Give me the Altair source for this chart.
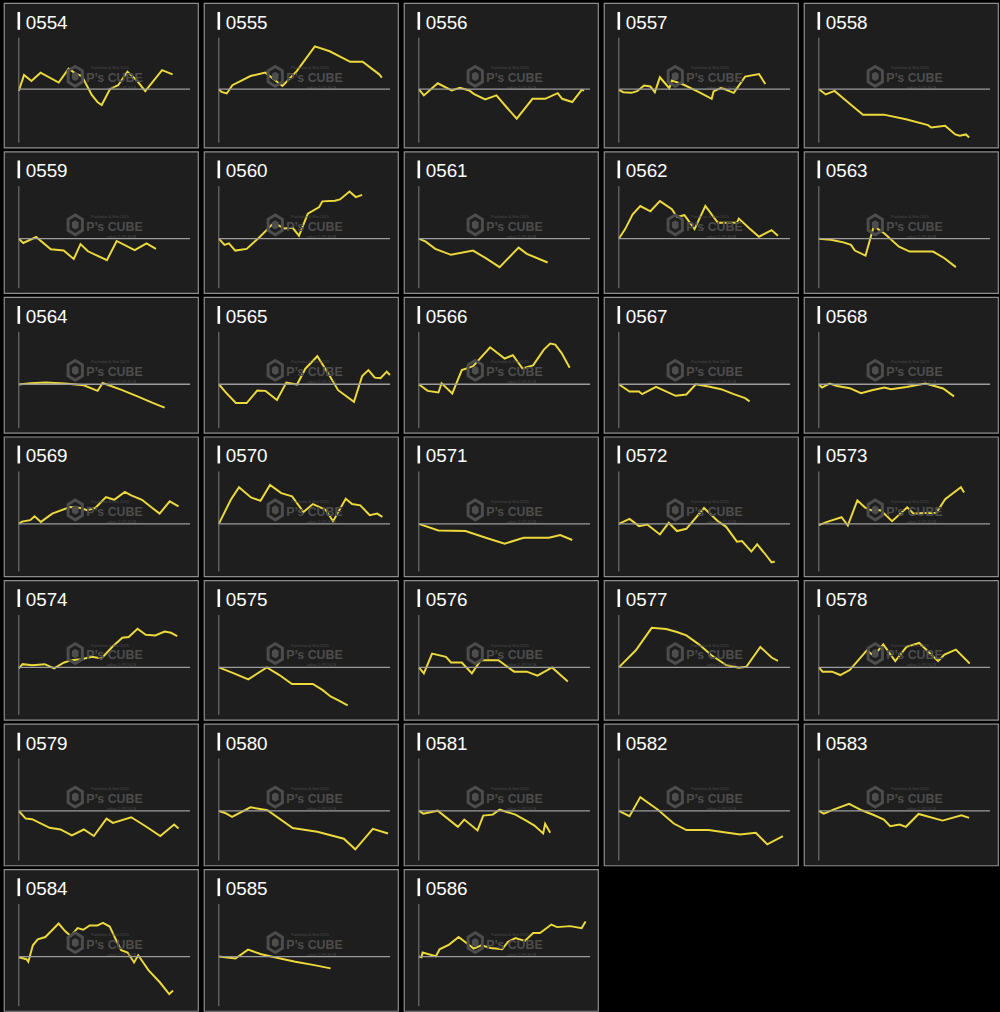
import altair as alt
import pandas as pd

codes = ["0554", "0555", "0556", "0557", "0558",
         "0559", "0560", "0561", "0562", "0563",
         "0564", "0565", "0566", "0567", "0568",
         "0569", "0570", "0571", "0572", "0573",
         "0574", "0575", "0576", "0577", "0578",
         "0579", "0580", "0581", "0582", "0583",
         "0584", "0585", "0586"]

x_0554 = [0, 5.3, 12.7, 22, 40.3, 50.3, 57, 63.7, 73.7, 79.7, 83.7, 92, 100.3, 109.7, 118.7, 127.7, 144.7, 155.3]
y_0554 = [-1.7, 14.3, 8.3, 16.7, 6.7, 20.7, 16, 13.3, -5.7, -13.3, -16, 0, 4, 17.7, 9.3, -2, 19.3, 15]
x_0555 = [0, 2.7, 8, 13.7, 32, 47, 64.3, 78.7, 97, 112, 132.7, 145.3, 162, 164.7]
y_0555 = [0, -2.7, -4.3, 4, 13.3, 16.7, 3.3, 18.3, 43.3, 38.3, 27.7, 27.7, 15, 11.7]
x_0556 = [0, 5.1, 19.1, 33.2, 41.5, 51, 55.5, 67, 78.4, 89.3, 98.9, 114.8, 127.6, 140.3, 144.8, 155, 164.5, 167]
y_0556 = [0, -6.3, 6, -1.3, 1.3, -1.3, -4.7, -10.3, -6.3, -19, -29.7, -9.7, -9.7, -4, -9.7, -13, -0.7, -1.3]
x_0557 = [0, 4.5, 12.8, 18.5, 25.5, 31.9, 36.4, 41.5, 51, 53.6, 65.1, 81, 93.8, 95.7, 103.3, 116.1, 127.6, 141.6, 148]
y_0557 = [-0.7, -3, -3.7, -2, 3.7, 2.7, -3, 12, 1, 8.7, 4.7, -3, -9.7, -2.3, 1.3, -3.7, 12.7, 15.3, 5.3]
x_0558 = [0, 7, 15.9, 26.1, 44.6, 65.7, 88, 110.3, 113.5, 127.6, 137.8, 142.3, 148.6, 151.8]
y_0558 = [0, -5.3, -1.7, -10.3, -25.7, -25.7, -30.3, -36.3, -38.7, -37, -45.7, -47, -45.7, -48.7]
x_0559 = [0, 4.5, 17.5, 32.3, 45.3, 55.5, 62.3, 69.8, 89, 98.8, 117, 129, 138.5]
y_0559 = [0, -4.3, 1.7, -10.7, -12, -20.5, -5.5, -12.7, -21.7, -2.3, -11.5, -4.8, -10.3]
x_0560 = [0, 5.7, 10.2, 16.6, 28.1, 40.8, 55.5, 66.3, 74.6, 81, 89.9, 101.4, 104.6, 117.3, 122.4, 132, 138.4, 144.8]
y_0560 = [0, -6.3, -4.7, -12, -10.3, 1.3, 16, 10.3, 11, 3, 25.3, 32, 37.7, 38.3, 39.7, 47.7, 42, 44.3]
x_0561 = [0, 7, 16.6, 32.5, 54.8, 67.6, 81.6, 100.8, 109.1, 130.1]
y_0561 = [0, -3, -10.3, -16.3, -12, -19.7, -28.7, -9, -15.3, -24]
x_0562 = [0, 6.4, 14, 21.7, 31.9, 41.5, 53.6, 58.7, 66.3, 76.5, 87.4, 100.1, 109.7, 119.3, 121.2, 132, 141.6, 154.3, 160.7]
y_0562 = [0, 9.7, 24.7, 33, 27.7, 38, 29.7, 22, 23.7, 9.7, 33, 16, 16, 16, 20.3, 10.3, 2, 8.7, 3]
x_0563 = [0, 12.1, 24.9, 32.5, 36.4, 47.2, 55.5, 66.3, 81, 91.8, 115.4, 126.9, 138.4]
y_0563 = [0, -1, -3.7, -6.3, -12, -17, 12.7, 5.3, -8, -13, -13, -19.7, -28.7]
x_0564 = [0, 11.5, 27.4, 46.5, 65.6, 79.6, 84.7, 103.8, 119.9, 135.8, 147.3]
y_0564 = [-0.3, 1, 1.7, 0.7, -1, -6.7, 1.3, -5.7, -12.3, -19, -23.7]
x_0565 = [0, 7, 17.2, 28.1, 38.9, 47.2, 58.7, 68.2, 79, 87.4, 99.5, 111, 120.5, 136.5, 144.8, 151.1, 157.5, 163.3, 169.6, 172.8]
y_0565 = [0, -8.3, -19, -19, -6.3, -6.7, -16, 1.7, -0.3, 15.7, 28.3, 10, -6, -17.7, 8.3, 14.3, 6.7, 6, 12.7, 9.3]
x_0566 = [0, 8.9, 19.8, 23, 33.8, 43.4, 54.8, 72, 86.7, 95, 104.6, 115.4, 126.3, 132.7, 137.8, 144.1, 152.4]
y_0566 = [0, -6.7, -8.3, 1, -9.3, 14.3, 18.3, 37.3, 26, 29.3, 16, 19, 35, 41, 40, 31.7, 16.7]
x_0567 = [0, 10.8, 20.4, 23.6, 37.6, 57.4, 68.2, 77.8, 90.6, 103.3, 116.1, 127.6, 132]
y_0567 = [0, -7.3, -7.3, -10, -2.7, -11.7, -10.3, 0, -2.3, -5, -10, -14, -17.3]
x_0568 = [0, 3.2, 10.8, 18.5, 31.2, 42.7, 53.6, 66.3, 72.7, 88.6, 107.8, 125.6, 136.5]
y_0568 = [0, -3.3, 0.7, -1.7, -4, -9, -6, -3.3, -5, -2.7, 0.7, -4.3, -12.3]
x_0569 = [0, 3.2, 11.5, 15.9, 22.3, 33.8, 51.7, 62.5, 68.9, 77.2, 88, 96.3, 107.1, 113.5, 124.4, 135.8, 142.2, 152.4, 161.3]
y_0569 = [0, 2.3, 3.7, 7.7, 2, 10.3, 17, 16, 13.7, 16, 27, 24.3, 32.3, 28.7, 24.3, 15.3, 10.3, 22.7, 17.7]
x_0570 = [0, 12.1, 20.4, 32.5, 42.1, 51.7, 63.1, 74, 85.5, 95, 107.8, 115.4, 128.2, 134.6, 142.9, 152.4, 160, 165.2]
y_0570 = [0, 24.3, 37, 26.7, 23.3, 39.3, 31, 27.7, 12, 20, 14.3, 2.7, 25.3, 20, 18.7, 8.7, 10.3, 7]
x_0571 = [0, 19.8, 47.2, 67.6, 86.7, 105.9, 131.4, 142.9, 155]
y_0571 = [0, -6.7, -7.3, -14, -20, -14, -14, -11.3, -16.3]
x_0572 = [0, 10.8, 20.4, 28.7, 41.5, 50.4, 58.7, 68.2, 86.1, 100.1, 108.4, 119.3, 124.4, 128.8, 133.9, 139.7, 148, 154.3, 157.5]
y_0572 = [0, 5, -2.3, -0.7, -10.7, 1, -7.3, -5, 16, 2.7, -3, -18, -17.3, -22.3, -28, -20.7, -30.7, -39, -38]
x_0573 = [0, 8.3, 23, 29.3, 38.9, 46.5, 52.9, 62.5, 74, 89.3, 95.7, 105.9, 118.6, 127.6, 143.5, 146.7]
y_0573 = [-1.3, 2, 6.7, -1.7, 23.7, 16.7, 13.7, 13.7, 2.7, 16.7, 10.3, 11, 11, 25, 37, 31.7]
x_0574 = [0, 3.8, 13.4, 26.1, 35.7, 45.3, 53, 63.1, 74, 83.5, 95, 104.6, 111, 119.9, 128.2, 137.8, 147.3, 153.7, 160]
y_0574 = [-1, 3.3, 2.3, 3.3, -1, 4.7, 7.3, 8.3, 10.7, 9, 21.3, 30, 30.7, 39, 33, 32.3, 36.3, 35, 31.7]
x_0575 = [0, 15.3, 29.8, 48.5, 61.2, 73.9, 94.9, 104.6, 112.9, 121.8, 130.1]
y_0575 = [0, -6, -12, 0, -7.7, -16.7, -16.7, -22.7, -29.3, -33.7, -38.3]
x_0576 = [0, 5.1, 13.4, 27.4, 32.5, 43.4, 53.6, 62.5, 80.4, 96.3, 109.1, 119.9, 134.6, 150.5]
y_0576 = [0, -6, 14, 10.7, 5, 5, -6, 7.3, 7.3, -4.3, -4.3, -8.3, 0, -14.3]
x_0577 = [0, 17.2, 33.2, 47.8, 58.7, 68.2, 80.9, 93.6, 108.4, 121.2, 128.8, 142.9, 154.3, 160.7]
y_0577 = [0, 17.3, 40, 38.7, 35.7, 32.3, 23.3, 12.3, 2.3, -0.3, 0.7, 20.7, 10, 6.7]
x_0578 = [0, 3.8, 13.4, 21.7, 31.2, 48.5, 55.5, 65.1, 77.2, 88.6, 101.4, 120.5, 126.9, 138.4, 152.4]
y_0578 = [0, -4.3, -4.3, -7.7, -2.7, 17.3, 11.7, 23.3, 6.3, 20.7, 24.7, 6.3, 13, 18, 4]
x_0579 = [0, 7, 13.4, 31.2, 42.1, 53.6, 65.7, 75.8, 88.6, 95, 113.5, 126.9, 142.9, 156.9, 161.3]
y_0579 = [0, -7.7, -8.3, -17, -18.7, -24.7, -18.7, -25.3, -7.7, -12, -6.3, -14.7, -25.3, -13.7, -17.7]
x_0580 = [0, 6.4, 13.4, 31.9, 49.1, 74.6, 99.5, 126.3, 137.8, 155.6, 170.9]
y_0580 = [0, -2, -6, 3.7, 0.7, -17.3, -21, -28, -38.7, -18, -22.7]
x_0581 = [0, 4.5, 19.1, 39.5, 45.9, 59.3, 65.1, 74.6, 81.6, 97.6, 108.4, 116.8, 125.6, 127.6, 132.7]
y_0581 = [0.3, -2.7, 0.3, -16, -8.7, -19.7, -4.7, -3.7, 1.3, -3.7, -9.7, -14.7, -22.7, -13, -22]
x_0582 = [0, 10.8, 21.7, 39.5, 55.5, 68.2, 90.6, 122.4, 138.4, 149.9, 165.8]
y_0582 = [0, -5.3, 14, 1.3, -12.7, -19.3, -19.3, -23.7, -22, -33.7, -25.3]
x_0583 = [0, 5.1, 14.7, 30.6, 43.4, 56.1, 65.7, 72.1, 81.6, 88, 100.8, 125, 144.1, 151.8]
y_0583 = [0, -2.7, 1.3, 7.3, 0.7, -4.3, -8.7, -15.3, -13.7, -16, -3, -9.7, -4.3, -7]
x_0584 = [0, 7.7, 9.6, 14.2, 19.1, 26.8, 33.3, 40.2, 46.7, 52.4, 59.3, 65.1, 71.6, 79.2, 85, 91.8, 98.4, 103.4, 109.9, 116.4, 120.6, 130.9, 142.4, 151.9, 155.8]
y_0584 = [-0.7, -2.7, -5.3, 11.3, 17.3, 19.7, 26.3, 33.3, 25.7, 20.7, 28.7, 27, 31.3, 31.3, 34, 30.3, 16.3, 6.3, 4, -6, 1.3, -13.7, -26, -38, -34.3]
x_0585 = [0, 16.8, 29.5, 42.9, 62, 77.3, 96.4, 112.9]
y_0585 = [0, -2, 7, 2.3, -2, -5.3, -8.7, -12]
x_0586 = [0, 2.7, 3.8, 17.2, 21, 30.6, 40.2, 55.5, 63.1, 72.7, 84.2, 89.9, 97.6, 107.1, 115.5, 122.4, 133.9, 139.6, 153, 164.5, 168.4]
y_0586 = [0, -0.7, 4, 0.3, 7.3, 12, 19.7, 8, 11.3, 8.7, 7.3, 14.7, 18.7, 15.7, 23.7, 23.7, 32.3, 29.7, 30.7, 28.7, 35.3]

series = {c: (globals()["x_" + c], globals()["y_" + c]) for c in codes}

# layout
PANEL_W = 196
ROW_H = [146, 143, 137, 141, 141, 143, 143]
ROW_BASE = [87, 88, 88, 88, 88, 88, 88]
NCOL = 5

YELLOW = "#ecd93b"
BG = "#1e1e1e"
WM = "#4d4d4d"
HEX = "M0,-1 L0.72,-0.56 L0.72,0.56 L0,1 L-0.72,0.56 L-0.72,-0.56 Z"


def panel(code, h, base):
    xs, ys = series[code]
    n = len(xs)
    df = pd.DataFrame({"day": xs, "change": ys, "code": [code] * n,
                       "first": [True] + [False] * (n - 1)})
    xsc = alt.Scale(domain=[-15, PANEL_W - 15], nice=False, zero=False)
    ysc = alt.Scale(domain=[base - h, base], nice=False, zero=False)
    X = alt.X("day:Q", scale=xsc, axis=None)
    Y = alt.Y("change:Q", scale=ysc, axis=None)

    base_chart = alt.Chart(df)
    first = base_chart.transform_filter("datum.first")

    hex_outer = first.mark_point(
        shape=HEX, filled=False, stroke=WM, strokeWidth=3, size=400, opacity=1
    ).encode(x=alt.value(72), y=alt.value(74))
    hex_inner = first.mark_point(
        shape=HEX, filled=True, fill=WM, size=90, opacity=1
    ).encode(x=alt.value(72), y=alt.value(74))
    wm_text = first.mark_text(
        text="P’s CUBE", font="Liberation Sans", fontWeight="bold", fontSize=12.5,
        color=WM, align="left", baseline="alphabetic"
    ).encode(x=alt.value(83), y=alt.value(80))
    wm_top = first.mark_text(
        text="Pachinko & Slot 2015", font="Liberation Sans", fontSize=4,
        color=WM, align="left", baseline="alphabetic"
    ).encode(x=alt.value(88), y=alt.value(67))
    wm_bot = first.mark_text(
        text="value 2 LPI-SCB", font="Liberation Sans", fontSize=4,
        color=WM, align="left", baseline="alphabetic"
    ).encode(x=alt.value(104), y=alt.value(87))

    zero = first.mark_rule(color="#9c9c9c", strokeWidth=1.3).encode(
        x=alt.value(15), x2=alt.value(188), y=alt.datum(0)
    )
    vaxis = first.mark_rule(color="#808080", strokeWidth=1).encode(
        x=alt.value(15), y=alt.value(35), y2=alt.value(h - 5)
    )
    line = base_chart.mark_line(color=YELLOW, strokeWidth=2).encode(
        x=X, y=Y, order="day:Q"
    )
    bar = first.mark_rule(color="white", strokeWidth=2.6).encode(
        x=alt.value(15), y=alt.value(9), y2=alt.value(27)
    )
    title = first.mark_text(
        font="Liberation Sans", fontSize=19, color="white",
        align="left", baseline="alphabetic"
    ).encode(x=alt.value(22), y=alt.value(26), text="code:N")

    return alt.layer(
        line, hex_outer, hex_inner, wm_text, wm_top, wm_bot, zero, vaxis, bar, title
    ).properties(width=PANEL_W, height=h)


rows = []
for r in range(len(ROW_H)):
    row_codes = codes[r * NCOL:(r + 1) * NCOL]
    charts = [panel(c, ROW_H[r], ROW_BASE[r]) for c in row_codes]
    rows.append(alt.hconcat(*charts, spacing=4))

chart = (
    alt.vconcat(*rows, spacing=2)
    .properties(padding={"left": 3, "top": -3, "right": 1, "bottom": 0},
                background="black")
    .configure_view(fill=BG, stroke="#8f8f8f", strokeWidth=1.2)
)

chart.save("out.html", embed_options={"renderer": "svg", "actions": False})
